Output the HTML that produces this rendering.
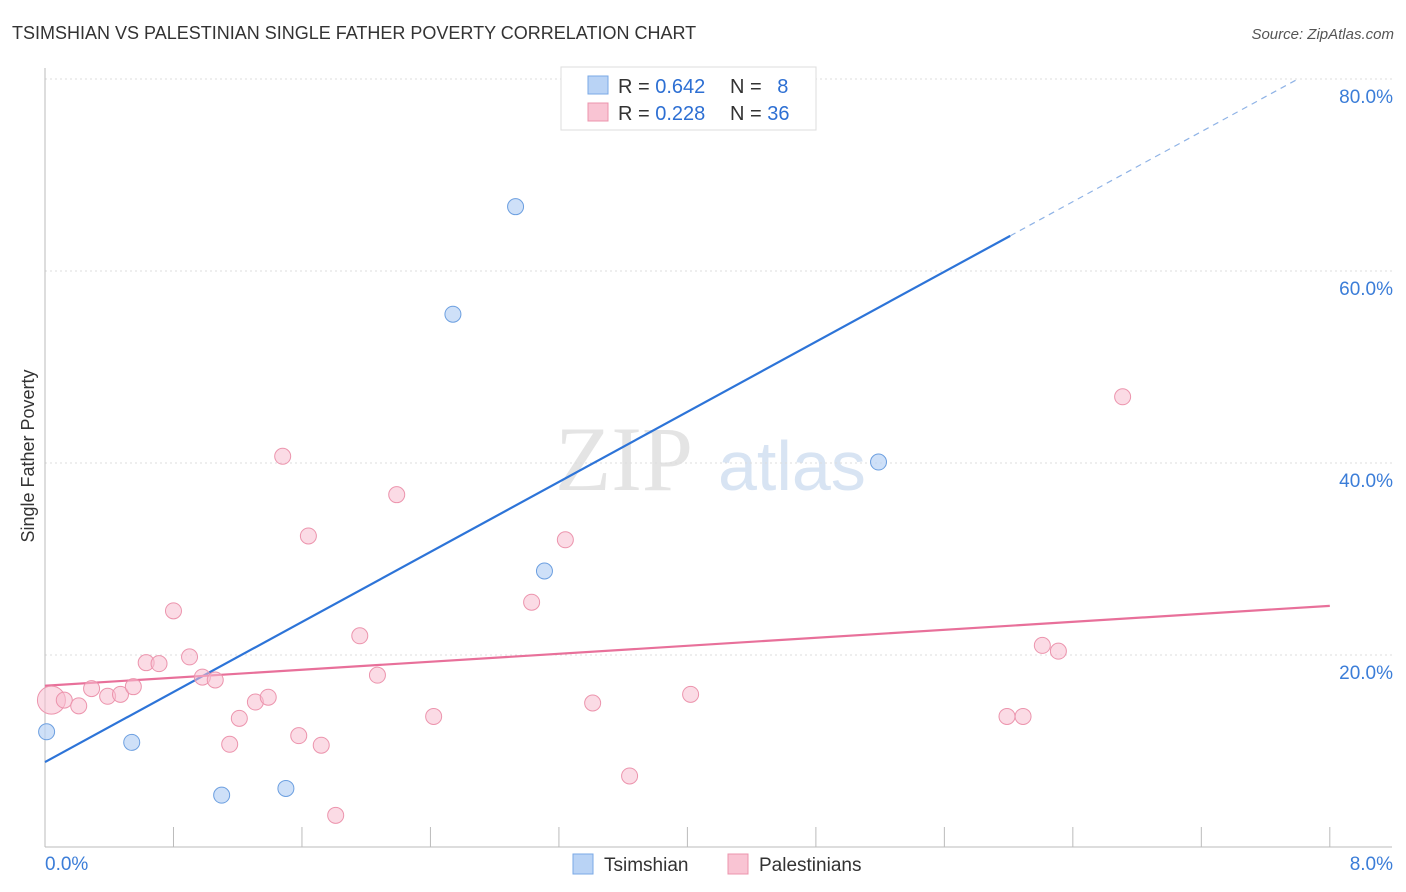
<!DOCTYPE html>
<html><head><meta charset="utf-8"><style>
body{margin:0;background:#fff;font-family:"Liberation Sans",sans-serif;}
svg{display:block}
</style></head><body>
<svg id="chart" width="1406" height="892" xmlns="http://www.w3.org/2000/svg">
<text x="12" y="39" font-size="18" fill="#333">TSIMSHIAN VS PALESTINIAN SINGLE FATHER POVERTY CORRELATION CHART</text>
<text x="1394" y="39" font-size="15" fill="#555" text-anchor="end" font-style="italic">Source: ZipAtlas.com</text>
<g>
<text x="555" y="490" font-size="92" fill="#e4e4e4" font-family="Liberation Serif,serif">ZIP</text>
<text x="718" y="490" font-size="70" fill="#d8e4f3">atlas</text>
</g>
<g id="grid"></g>
<g id="axes"></g>
<text transform="translate(34,456) rotate(-90)" font-size="18" fill="#333" text-anchor="middle">Single Father Poverty</text>
<g id="lines"></g>
<g id="points"></g>
<g>
<rect x="561" y="67" width="255" height="63" fill="#fff" stroke="#ddd"/>
<rect x="588" y="76" width="20" height="18" fill="#b9d3f5" stroke="#7aa8e6"/>
<rect x="588" y="103" width="20" height="18" fill="#f9c4d3" stroke="#ec94ad"/>
<text x="618" y="93" font-size="20" fill="#333">R = <tspan fill="#2d6fd3">0.642</tspan></text>
<text x="730" y="93" font-size="20" fill="#333">N = <tspan fill="#2d6fd3" dx="10">8</tspan></text>
<text x="618" y="120" font-size="20" fill="#333">R = <tspan fill="#2d6fd3">0.228</tspan></text>
<text x="730" y="120" font-size="20" fill="#333">N = <tspan fill="#2d6fd3">36</tspan></text>
</g>
<g>
<rect x="573" y="854" width="20" height="20" fill="#b9d3f5" stroke="#7aa8e6"/>
<text x="604" y="871" font-size="19" fill="#333">Tsimshian</text>
<rect x="728" y="854" width="20" height="20" fill="#f9c4d3" stroke="#ec94ad"/>
<text x="759" y="871" font-size="19" fill="#333">Palestinians</text>
</g>
</svg>
<script>
const xTicks=[0,0.8,1.6,2.4,3.2,4,4.8,5.6,6.4,7.2,8];
const yTicks=[20,40,60,80];
const tsimX=[0.01,0.54,1.10,1.50,2.54,2.93,3.11,5.19];
const tsimY=[12.0,10.9,5.4,6.1,55.5,66.7,28.75,40.1];
const palX=[0.04,0.12,0.21,0.29,0.39,0.47,0.55,0.63,0.71,0.80,0.90,0.98,1.06,1.15,1.21,1.31,1.39,1.48,1.58,1.64,1.72,1.81,1.96,2.07,2.19,2.42,3.03,3.24,3.41,3.64,4.02,5.99,6.09,6.21,6.31,6.71];
const palY=[15.3,15.3,14.7,16.5,15.7,15.9,16.7,19.2,19.1,24.6,19.8,17.7,17.4,10.7,13.4,15.1,15.6,40.7,11.6,32.4,10.6,3.3,22.0,17.9,36.7,13.6,25.5,32.0,15.0,7.4,15.9,13.6,13.6,21.0,20.4,46.9];
const tsimTrend=[8.85,9.12];
const palTrend=[16.8,1.04];
const NS="http://www.w3.org/2000/svg";
const X=v=>45+v*160.6, Y=v=>847-v*9.6;
function mk(t,a,p){const e=document.createElementNS(NS,t);for(const k in a)e.setAttribute(k,a[k]);document.getElementById(p).appendChild(e);return e;}
yTicks.forEach(t=>{
 const l=mk('line',{x1:45,x2:1392,y1:Y(t),y2:Y(t),stroke:'#ddd','stroke-dasharray':'2,3'},'grid');
 
 
 const tx=mk('text',{x:1393,y:Y(t)+24,'font-size':19,fill:'#3b7dd8','text-anchor':'end'},'axes');
 tx.textContent=t.toFixed(1)+'%';
 
 
});
const ax=mk('line',{x1:45,x2:1392,y1:847,y2:847,stroke:'#bbb'},'axes');


const ay=mk('line',{x1:45,x2:45,y1:68,y2:847,stroke:'#bbb'},'axes');


xTicks.forEach(t=>{const l=mk('line',{x1:X(t),x2:X(t),y1:827,y2:847,stroke:'#bbb'},'axes');
 
 });
[[0,'start',45],[8,'end',1393]].forEach(([v,a,x])=>{const tx=mk('text',{x:x,y:870,'font-size':19,fill:'#3b7dd8','text-anchor':a},'axes');tx.textContent=v.toFixed(1)+'%';
 
 });
// trend lines
const tb=v=>tsimTrend[0]+tsimTrend[1]*v;
let l1=mk('line',{x1:X(0),y1:Y(tb(0)),x2:X(6.01),y2:Y(tb(6.01)),stroke:'#2d74d8','stroke-width':2.2},'lines');


let l2=mk('line',{x1:X(6.01),y1:Y(tb(6.01)),x2:X(7.8),y2:Y(tb(7.8)),stroke:'#8fb3e6','stroke-width':1.2,'stroke-dasharray':'6,5'},'lines');


const pb=v=>palTrend[0]+palTrend[1]*v;
let l3=mk('line',{x1:X(0),y1:Y(pb(0)),x2:X(8),y2:Y(pb(8)),stroke:'#e8709a','stroke-width':2.2},'lines');


palX.forEach((v,i)=>{const c=mk('circle',{cx:X(v),cy:Y(palY[i]),r:i==0?14:8,fill:'rgba(248,190,208,0.55)',stroke:'#ec94ad','stroke-width':1},'points');
 
 });
tsimX.forEach((v,i)=>{const c=mk('circle',{cx:X(v),cy:Y(tsimY[i]),r:8,fill:'rgba(185,211,245,0.7)',stroke:'#6c9fe0','stroke-width':1},'points');
 
 });
</script>
</body></html>
